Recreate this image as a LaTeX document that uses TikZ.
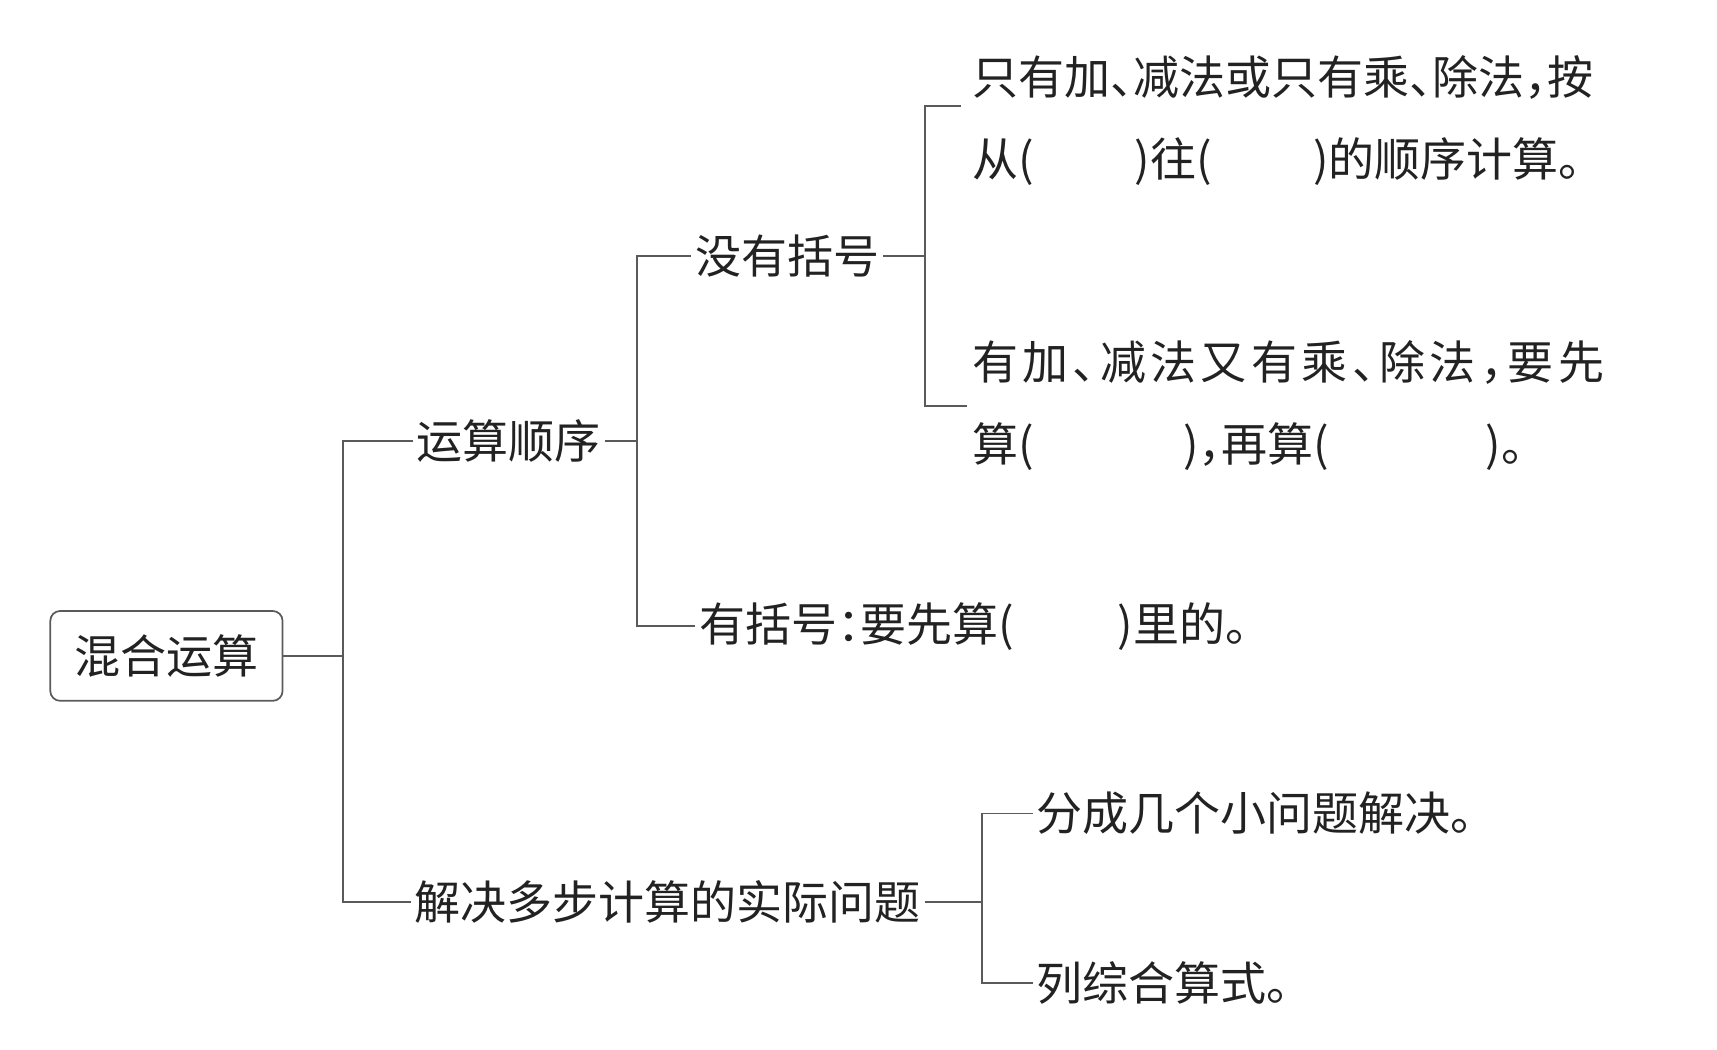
\documentclass[tikz,border=0pt]{standalone}
\usepackage{fontspec}
\setmainfont{Noto Sans CJK SC}[RawFeature=+halt]
\newfontfamily\widefont{Noto Sans CJK SC}[RawFeature=+halt,LetterSpace=9.5]
\usepackage{tikz}
\definecolor{inkgray}{HTML}{222222}
\definecolor{linegray}{HTML}{5A5A5A}
\tikzstyle{topic} = [rectangle, draw=linegray, line width=0.45pt, rounded corners=0.09cm, minimum width=2.12cm, minimum height=0.82cm, text=inkgray]
\tikzstyle{item} = [anchor=west, inner xsep=0.03cm, inner ysep=0pt, text=inkgray, align=left]
\tikzstyle{branch} = [draw=linegray, line width=0.45pt]

\begin{document}
\begin{tikzpicture}[x=0.01cm, y=-0.01cm, font=\fontsize{11.95pt}{21.34pt}\selectfont]
      \useasboundingbox (0,0) rectangle (1568,958);
      \node [topic] (root) at (152,599) {混合运算};
      \node [item] (order) at (377,403) {运算顺序};
      \node [item] (solve) at (375,824) {解决多步计算的实际问题};
      \node [item] (nobracket) at (631,234) {没有括号};
      \node [item] (bracket) at (635,572) {有括号：要先算(\hspace{2.25em})里的。};
      \node [item] (single) at (884,110) {只有加、减法或只有乘、除法，按\\从(\hspace{2.2em})往(\hspace{2.2em})的顺序计算。};
      \node [item] (mixed) at (884,370) {{\widefont 有加、减法又有乘、除法，要先}\\算(\hspace{3.25em})，再算(\hspace{3.4em})。};
      \node [item] (split) at (943,743) {分成几个小问题解决。};
      \node [item] (formula) at (943,898) {列综合算式。};

      \coordinate (j1) at (313,599);
      \coordinate (j2) at (582,403);
      \coordinate (j3) at (845,234);
      \coordinate (j4) at (897,824);
      \coordinate (single end) at (878,97);
      \coordinate (mixed end) at (883,371);

      \path [branch] (root.east) -- (j1);
      \path [branch] (order.west) -| (j1) |- (solve.west);
      \path [branch] (order.east) -- (j2);
      \path [branch] (nobracket.west) -| (j2) |- (bracket.west);
      \path [branch] (nobracket.east) -- (j3);
      \path [branch] (single end) -| (j3) |- (mixed end);
      \path [branch] (solve.east) -- (j4);
      \path [branch] (split.west) -| (j4) |- (formula.west);
    \end{tikzpicture}
\end{document}
